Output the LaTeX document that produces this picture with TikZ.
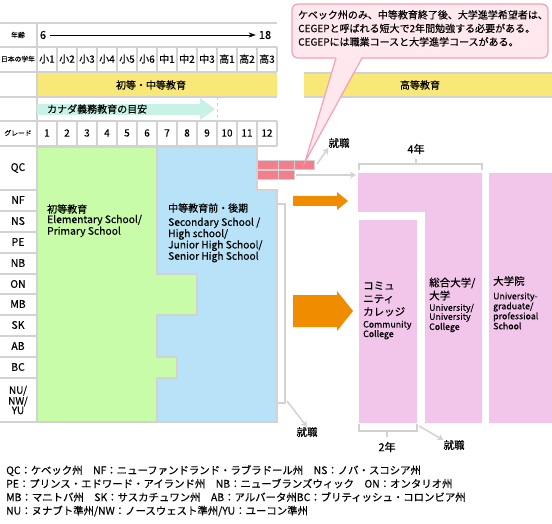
\documentclass[tikz,border=0pt]{standalone}
\usepackage{fontspec}
\setmainfont{Noto Sans CJK JP}[FakeBold=0.35]
\usetikzlibrary{arrows.meta}
\definecolor{gridgray}{HTML}{D2D2D2}
\definecolor{elemgreen}{HTML}{C8FCA8}
\definecolor{secblue}{HTML}{B8E2F8}
\definecolor{bandyellow}{HTML}{F8E878}
\definecolor{guideteal}{HTML}{C8F2E6}
\definecolor{unipink}{HTML}{F2C6EA}
\definecolor{cegeppink}{HTML}{F47F8C}
\definecolor{floworange}{HTML}{F08C00}
\definecolor{notefill}{HTML}{FFE8EE}
\definecolor{noteline}{HTML}{F8A0B0}
\tikzset{
  gridline/.style={draw=gridgray, line width=1.5pt},
  lbl/.style={inner sep=0pt, font=\fontsize{10}{12}\selectfont},
  tinylbl/.style={inner sep=0pt, font=\fontsize{6.8}{8}\selectfont},
  provlbl/.style={inner sep=0pt, font=\fontsize{10.5}{10}\selectfont, align=center},
  jobarrow/.style={draw=gridgray, line width=1.5pt, -{Stealth[length=6pt,width=7pt]}},
  bracketline/.style={draw=gridgray, line width=1.5pt},
}
\begin{document}
\begin{tikzpicture}[x=1pt,y=-1pt]
\useasboundingbox (0,0) rectangle (552,524);
\fill[bandyellow] (37,73) rectangle (277,96);
\fill[bandyellow] (304,74) rectangle (552,96);
\foreach \y in {23,47,72,97,121,146}
  \draw[gridline] (0,\y) -- (277,\y);
\draw[gridline] (304,73) -- (552,73);
\draw[gridline] (304,97) -- (552,97);
\draw[gridline] (37,23) -- (37,147);
\foreach \x in {57,77,...,277} {
  \draw[gridline] (\x,47) -- (\x,72);
  \draw[gridline] (\x,121) -- (\x,146);
}
\node[tinylbl] (ageLbl) at (18,35) {年齢};
\node[tinylbl] (yearLbl) at (18,59) {日本の学年};
\node[tinylbl] (gradeLbl) at (18,133) {グレード};
\node[lbl, font=\fontsize{11}{12}\selectfont] (ageFrom) at (43,35) {6};
\node[lbl, font=\fontsize{11}{12}\selectfont] (ageTo) at (265,35) {18};
\draw[-{Stealth[length=7pt,width=5pt]}, shorten <=4pt, shorten >=3pt] (ageFrom.east) -- (ageTo.west);
\foreach \yr [count=\i from 0] in {小1,小2,小3,小4,小5,小6,中1,中2,中3,高1,高2,高3}
  \node[lbl] (jy\i) at ({47+20*\i},59) {\yr};
\foreach \g [count=\i from 0] in {1,...,12}
  \node[lbl] (gr\g) at ({47+20*\i},133) {\g};
\node[lbl] (primSec) at (151,85) {初等・中等教育};
\node[lbl] (higherEd) at (420,85) {高等教育};
\fill[guideteal] (37,104) -- (200,104) -- (200,98) -- (215,109) -- (200,120) -- (200,115) -- (37,115) -- cycle;
\node[lbl, anchor=west] (guideTxt) at (47,109) {カナダ義務教育の目安};
\draw[gridgray, line width=0.8pt, dashed] (217,97) -- (217,121);
\foreach \y in {190,211,232,253,274,294,315,336,357,378}
  \draw[gridline] (0,\y) -- (37,\y);
\draw[gridline] (0,422) -- (277,422);
\foreach \pv/\y in {QC/168,NF/200,NS/221,PE/242,NB/263,ON/284,MB/304,SK/325,AB/346,BC/367}
  \node[provlbl] (pv\pv) at (18,\y) {\pv};
\node[provlbl, font=\fontsize{10}{9.5}\selectfont] (pvNU) at (18,400) {NU/\\NW/\\YU};
\filldraw[fill=elemgreen, draw=gridgray, line width=1.5pt] (37,147) -- (157,147) -- (157,274) -- (197,274) -- (197,315) -- (157,315) -- (157,357) -- (177,357) -- (177,378) -- (157,378) -- (157,422) -- (37,422) -- cycle;
\filldraw[fill=secblue, draw=gridgray, line width=1.5pt] (157,147) -- (257,147) -- (257,190) -- (277,190) -- (277,422) -- (157,422) -- (157,378) -- (177,378) -- (177,357) -- (157,357) -- (157,315) -- (197,315) -- (197,274) -- (157,274) -- cycle;
\node[lbl, anchor=west] (elemJa) at (47,209) {初等教育};
\node[lbl, anchor=west, align=left, font=\fontsize{10.3}{10.5}\selectfont] (elemEn) at (47,226) {Elementary School/\\Primary School};
\node[lbl, anchor=west] (secJa) at (168,208) {中等教育前・後期};
\node[lbl, anchor=west, align=left, font=\fontsize{10.2}{11.3}\selectfont] (secEn) at (168,240) {Secondary School /\\High school/\\Junior High School/\\Senior High School};
\draw[bracketline] (277,204) -- (285,204) -- (285,403) -- (277,403);
\filldraw[fill=cegeppink, draw=gridgray, line width=1pt] (257,161) rectangle (278,170) (278,161) rectangle (294,170) (294,161) rectangle (314,170);
\filldraw[fill=cegeppink, draw=gridgray, line width=1pt] (257,171) rectangle (278,180) (278,171) rectangle (294,180);
\fill[unipink] (358,173) -- (482,173) -- (482,423) -- (425,423) -- (425,212) -- (358,212) -- cycle;
\fill[unipink] (359,220) rectangle (417,423);
\fill[unipink] (489,173) rectangle (552,423);
\coordinate (cegepUp) at (317,164);
\coordinate (cegepMid) at (296,175);
\coordinate (uniTop) at (356,175);
\coordinate (secEnd) at (287,401);
\coordinate (ccEnd) at (419,426);
\node[lbl, font=\fontsize{10.5}{12}\selectfont] (jobTop) at (339,143) {就職};
\node[lbl, font=\fontsize{10.5}{12}\selectfont] (jobSec) at (307,432) {就職};
\node[lbl, font=\fontsize{10.5}{12}\selectfont] (jobCc) at (454,445) {就職};
\draw[jobarrow] (cegepUp) -- (jobTop.south west);
\draw[jobarrow] (cegepMid) -- (uniTop);
\draw[jobarrow] (secEnd) -- (jobSec.north);
\draw[jobarrow] (ccEnd) -- (jobCc.north west);
\fill[floworange] (293,196) -- (337,196) -- (337,192) -- (348,201) -- (337,210) -- (337,206) -- (293,206) -- cycle;
\fill[floworange] (293,295) -- (337,295) -- (337,291) -- (353,311) -- (337,331) -- (337,327) -- (293,327) -- cycle;
\draw[bracketline] (359,170) -- (359,164) -- (482,164) -- (482,170);
\draw[bracketline] (416,164) -- (416,159);
\node[lbl, font=\fontsize{11}{12}\selectfont] (fourYr) at (416,149) {4年};
\draw[bracketline] (359,424) -- (359,431) -- (417,431) -- (417,424);
\draw[bracketline] (387,431) -- (387,437);
\node[lbl, font=\fontsize{11}{12}\selectfont] (twoYr) at (387,447) {2年};
\node[lbl, anchor=west, align=left, font=\fontsize{10.5}{13}\selectfont] (ccJa) at (363,299) {コミュ\\ニティ\\カレッジ};
\node[lbl, anchor=west, align=left, font=\fontsize{8.8}{9.5}\selectfont] (ccEn) at (363,330) {Community\\College};
\node[lbl, anchor=west, align=left, font=\fontsize{10.5}{13}\selectfont] (uniJa) at (429,289) {総合大学/\\大学};
\node[lbl, anchor=west, align=left, font=\fontsize{8.8}{9}\selectfont] (uniEn) at (429,318) {University/\\University\\College};
\node[lbl, anchor=west, font=\fontsize{10.5}{13}\selectfont] (gradJa) at (493,281) {大学院};
\node[lbl, anchor=west, align=left, font=\fontsize{8.8}{10}\selectfont] (gradEn) at (493,311) {University-\\graduate/\\professioal\\School};
\node[inner sep=0pt, anchor=north west, align=left, font=\fontsize{10.4}{13.5}\selectfont] (legend) at (6,465) {QC：ケベック州　NF：ニューファンドランド・ラブラドール州　NS：ノバ・スコシア州\\PE：プリンス・エドワード・アイランド州　NB：ニューブランズウィック　ON：オンタリオ州\\MB：マニトバ州　SK：サスカチュワン州　AB：アルバータ州BC：ブリティッシュ・コロンビア州\\NU：ヌナブト準州/NW：ノースウェスト準州/YU：ユーコン準州};
\filldraw[fill=notefill, draw=noteline, line width=1.2pt, rounded corners=6pt] (292,4) rectangle (548,58);
\fill[notefill] (336,56) -- (305,162) -- (362,56) -- cycle;
\draw[noteline, line width=1.2pt] (336,58) -- (305,162) -- (362,58);
\node[inner sep=0pt, anchor=north west, align=left, font=\fontsize{10}{13.5}\selectfont] (noteTxt) at (298,10) {ケベック州のみ、中等教育終了後、大学進学希望者は、\\CEGEPと呼ばれる短大で2年間勉強する必要がある。\\CEGEPには職業コースと大学進学コースがある。};
\end{tikzpicture}
\end{document}
